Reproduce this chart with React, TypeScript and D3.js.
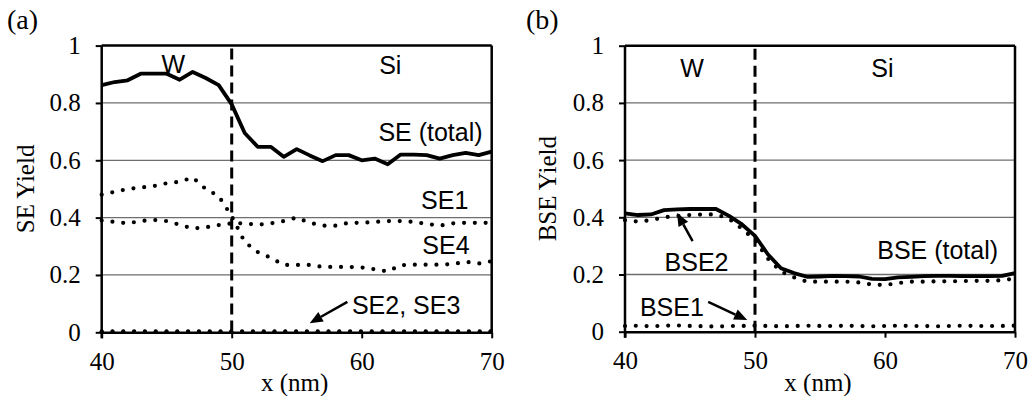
import React, { useEffect, useRef } from 'react';
import * as d3 from 'd3';

// beam position (nm)
const xPositions = [40, 41, 42, 43, 44, 45, 46, 47, 48, 49, 50, 51, 52, 53, 54, 55, 56, 57, 58, 59, 60, 61, 62, 63, 64, 65, 66, 67, 68, 69, 70];

// panel (a) secondary electron yields
const seTotal = [0.862, 0.873, 0.879, 0.902, 0.902, 0.902, 0.881, 0.908, 0.887, 0.862, 0.795, 0.695, 0.647, 0.647, 0.612, 0.639, 0.617, 0.597, 0.618, 0.618, 0.6, 0.606, 0.586, 0.62, 0.62, 0.618, 0.606, 0.618, 0.626, 0.618, 0.63];
const se1 = [0.39, 0.385, 0.38, 0.388, 0.392, 0.388, 0.375, 0.362, 0.366, 0.374, 0.38, 0.38, 0.375, 0.38, 0.388, 0.4, 0.382, 0.372, 0.372, 0.382, 0.382, 0.385, 0.388, 0.388, 0.385, 0.378, 0.372, 0.38, 0.382, 0.382, 0.382];
const se4 = [0.48, 0.49, 0.5, 0.505, 0.51, 0.52, 0.525, 0.54, 0.5, 0.475, 0.405, 0.315, 0.28, 0.26, 0.235, 0.235, 0.235, 0.228, 0.228, 0.228, 0.226, 0.22, 0.212, 0.234, 0.236, 0.236, 0.236, 0.238, 0.246, 0.24, 0.248];
const se2 = [0.003, 0.003, 0.003, 0.003, 0.003, 0.003, 0.003, 0.003, 0.003, 0.003, 0.003, 0.003, 0.003, 0.003, 0.003, 0.003, 0.003, 0.003, 0.003, 0.003, 0.003, 0.003, 0.003, 0.003, 0.003, 0.003, 0.003, 0.003, 0.003, 0.003, 0.003];
const se3 = [0.002, 0.002, 0.002, 0.002, 0.002, 0.002, 0.002, 0.002, 0.002, 0.002, 0.002, 0.002, 0.002, 0.002, 0.002, 0.002, 0.002, 0.002, 0.002, 0.002, 0.002, 0.002, 0.002, 0.002, 0.002, 0.002, 0.002, 0.002, 0.002, 0.002, 0.002];

// panel (b) backscattered electron yields
const bseTotal = [0.414, 0.408, 0.41, 0.425, 0.428, 0.429, 0.429, 0.429, 0.405, 0.375, 0.335, 0.27, 0.222, 0.205, 0.192, 0.193, 0.195, 0.194, 0.193, 0.185, 0.184, 0.19, 0.192, 0.194, 0.195, 0.195, 0.194, 0.194, 0.194, 0.195, 0.205];
const bse2 = [0.39, 0.385, 0.39, 0.4, 0.405, 0.408, 0.41, 0.41, 0.395, 0.36, 0.32, 0.255, 0.21, 0.19, 0.175, 0.175, 0.175, 0.175, 0.172, 0.165, 0.163, 0.17, 0.175, 0.175, 0.176, 0.176, 0.177, 0.178, 0.178, 0.18, 0.186];
const bse1 = [0.02, 0.021, 0.019, 0.021, 0.022, 0.02, 0.019, 0.018, 0.02, 0.02, 0.021, 0.02, 0.019, 0.02, 0.021, 0.02, 0.02, 0.021, 0.02, 0.019, 0.02, 0.021, 0.02, 0.02, 0.019, 0.02, 0.021, 0.02, 0.02, 0.02, 0.021];

const xTicks = [40, 50, 60, 70];
const yTicks = [0, 0.2, 0.4, 0.6, 0.8, 1];
const gridTicks = [0.2, 0.4, 0.6, 0.8];
const boundary = 50;

const SERIF = '"Liberation Serif", "Times New Roman", serif';
const SANS = '"Liberation Sans", Arial, sans-serif';

interface Series {
  values: number[];
  dotted: boolean;
}
interface Label {
  text: string;
  x: number;
  y: number;
  anchor: 'start' | 'middle' | 'end';
}
interface Arrow {
  x1: number;
  y1: number;
  x2: number;
  y2: number;
}
interface PanelConfig {
  tag: string;
  tagX: number;
  yTitle: string;
  yTitleX: number;
  left: number;
  right: number;
  top: number;
  bottom: number;
  series: Series[];
  labels: Label[];
  arrows: Arrow[];
}

const panels: PanelConfig[] = [
  {
    tag: '(a)',
    tagX: 7,
    yTitle: 'SE Yield',
    yTitleX: 25,
    left: 101.7,
    right: 491.7,
    top: 45.6,
    bottom: 332.3,
    series: [
      { values: seTotal, dotted: false },
      { values: se1, dotted: true },
      { values: se4, dotted: true },
      { values: se2, dotted: true },
      { values: se3, dotted: true },
    ],
    labels: [
      { text: 'W', x: 45.5, y: 0.935, anchor: 'middle' },
      { text: 'Si', x: 62.2, y: 0.931, anchor: 'middle' },
      { text: 'SE (total)', x: 69.3, y: 0.7, anchor: 'end' },
      { text: 'SE1', x: 68.2, y: 0.461, anchor: 'end' },
      { text: 'SE4', x: 68.3, y: 0.304, anchor: 'end' },
      { text: 'SE2, SE3', x: 59.25, y: 0.095, anchor: 'start' },
    ],
    arrows: [{ x1: 58.9, y1: 0.106, x2: 56.0, y2: 0.032 }],
  },
  {
    tag: '(b)',
    tagX: 526,
    yTitle: 'BSE Yield',
    yTitleX: 547,
    left: 625,
    right: 1015,
    top: 45.7,
    bottom: 331.7,
    series: [
      { values: bseTotal, dotted: false },
      { values: bse2, dotted: true },
      { values: bse1, dotted: true },
    ],
    labels: [
      { text: 'W', x: 45.15, y: 0.922, anchor: 'middle' },
      { text: 'Si', x: 59.8, y: 0.922, anchor: 'middle' },
      { text: 'BSE (total)', x: 68.7, y: 0.286, anchor: 'end' },
      { text: 'BSE2', x: 45.5, y: 0.244, anchor: 'middle' },
      { text: 'BSE1', x: 41.15, y: 0.086, anchor: 'start' },
    ],
    arrows: [
      { x1: 45.2, y1: 0.317, x2: 44.0, y2: 0.415 },
      { x1: 46.4, y1: 0.104, x2: 49.4, y2: 0.041 },
    ],
  },
];

function drawPanel(svg: d3.Selection<SVGSVGElement, unknown, null, undefined>, p: PanelConfig) {
  const x = d3.scaleLinear().domain([40, 70]).range([p.left, p.right]);
  const y = d3.scaleLinear().domain([0, 1]).range([p.bottom, p.top]);
  const g = svg.append('g');

  // gridlines
  g.append('g')
    .selectAll('line')
    .data(gridTicks)
    .join('line')
    .attr('x1', p.left)
    .attr('x2', p.right)
    .attr('y1', (d) => y(d))
    .attr('y2', (d) => y(d))
    .attr('stroke', '#6e6e6e')
    .attr('stroke-width', 1.3);

  // frame top + right
  g.append('line')
    .attr('x1', p.left)
    .attr('x2', p.right)
    .attr('y1', y(1))
    .attr('y2', y(1))
    .attr('stroke', '#000')
    .attr('stroke-width', 2.5);
  g.append('line')
    .attr('x1', p.right)
    .attr('x2', p.right)
    .attr('y1', y(1))
    .attr('y2', y(0))
    .attr('stroke', '#000')
    .attr('stroke-width', 2.5);

  // W / Si boundary
  g.append('line')
    .attr('x1', x(boundary))
    .attr('x2', x(boundary))
    .attr('y1', y(1) + 3)
    .attr('y2', y(0))
    .attr('stroke', '#000')
    .attr('stroke-width', 3)
    .attr('stroke-dasharray', '11,6');

  const line = d3
    .line<number>()
    .x((_d, i) => x(xPositions[i]))
    .y((d) => y(d));

  p.series.forEach((s) => {
    const path = g
      .append('path')
      .datum(s.values)
      .attr('d', line)
      .attr('fill', 'none')
      .attr('stroke', '#000')
      .attr('stroke-linejoin', 'round');
    if (s.dotted) {
      path.attr('stroke-width', 4.2).attr('stroke-linecap', 'round').attr('stroke-dasharray', '0,10.8');
    } else {
      path.attr('stroke-width', 3.8);
    }
  });

  // axes
  const yAxis = g
    .append('g')
    .attr('transform', `translate(${p.left},0)`)
    .call(
      d3
        .axisLeft(y)
        .tickValues(yTicks)
        .tickSize(6)
        .tickSizeOuter(0)
        .tickPadding(15)
        .tickFormat((d) => String(d))
    );
  const xAxis = g
    .append('g')
    .attr('transform', `translate(0,${p.bottom})`)
    .call(
      d3
        .axisBottom(x)
        .tickValues(xTicks)
        .tickSize(6)
        .tickSizeOuter(0)
        .tickPadding(14)
        .tickFormat((d) => String(d))
    );
  [yAxis, xAxis].forEach((ax) => {
    ax.select('.domain').attr('stroke', '#000').attr('stroke-width', 2.5);
    ax.selectAll('.tick line').attr('stroke', '#000').attr('stroke-width', 2);
    ax.selectAll('.tick text').attr('font-family', SERIF).attr('font-size', 25).attr('fill', '#000');
  });
  yAxis.select('.domain').attr('d', `M0,${p.bottom + 6}V${p.top}`);

  // series labels
  g.append('g')
    .selectAll('text')
    .data(p.labels)
    .join('text')
    .attr('x', (d) => x(d.x))
    .attr('y', (d) => y(d.y))
    .attr('text-anchor', (d) => d.anchor)
    .attr('dominant-baseline', 'central')
    .attr('font-family', SANS)
    .attr('font-size', 25)
    .text((d) => d.text);

  // arrows
  p.arrows.forEach((a) => {
    const sx = x(a.x1);
    const sy = y(a.y1);
    const ex = x(a.x2);
    const ey = y(a.y2);
    const ang = Math.atan2(ey - sy, ex - sx);
    const head = 13;
    const half = 5.5;
    const bx = ex - head * Math.cos(ang);
    const by = ey - head * Math.sin(ang);
    g.append('line')
      .attr('x1', sx)
      .attr('y1', sy)
      .attr('x2', bx)
      .attr('y2', by)
      .attr('stroke', '#000')
      .attr('stroke-width', 2.5);
    g.append('path')
      .attr(
        'd',
        `M${ex},${ey}L${bx - half * Math.sin(ang)},${by + half * Math.cos(ang)}L${bx + half * Math.sin(ang)},${by - half * Math.cos(ang)}Z`
      )
      .attr('fill', '#000');
  });

  // titles
  svg
    .append('text')
    .attr('x', p.tagX)
    .attr('y', 29)
    .attr('font-family', SERIF)
    .attr('font-size', 28)
    .text(p.tag);
  svg
    .append('text')
    .attr('transform', `translate(${p.yTitleX},${(p.top + p.bottom) / 2}) rotate(-90)`)
    .attr('text-anchor', 'middle')
    .attr('dominant-baseline', 'central')
    .attr('font-family', SERIF)
    .attr('font-size', 25)
    .text(p.yTitle);
  svg
    .append('text')
    .attr('x', (p.left + p.right) / 2 - 2)
    .attr('y', 391)
    .attr('text-anchor', 'middle')
    .attr('font-family', SERIF)
    .attr('font-size', 25)
    .text('x (nm)');
}

const App: React.FC = () => {
  const ref = useRef<SVGSVGElement>(null);

  useEffect(() => {
    const svg = d3.select(ref.current!).attr('width', 1032).attr('height', 396);
    svg.selectAll('*').remove();
    panels.forEach((p) => drawPanel(svg, p));
    return () => {
      svg.selectAll('*').remove();
    };
  }, []);

  return (
    <svg
      ref={ref}
      style={{ position: 'absolute', left: 0, top: 0, background: '#fff', display: 'block' }}
    ></svg>
  );
};

export default App;
